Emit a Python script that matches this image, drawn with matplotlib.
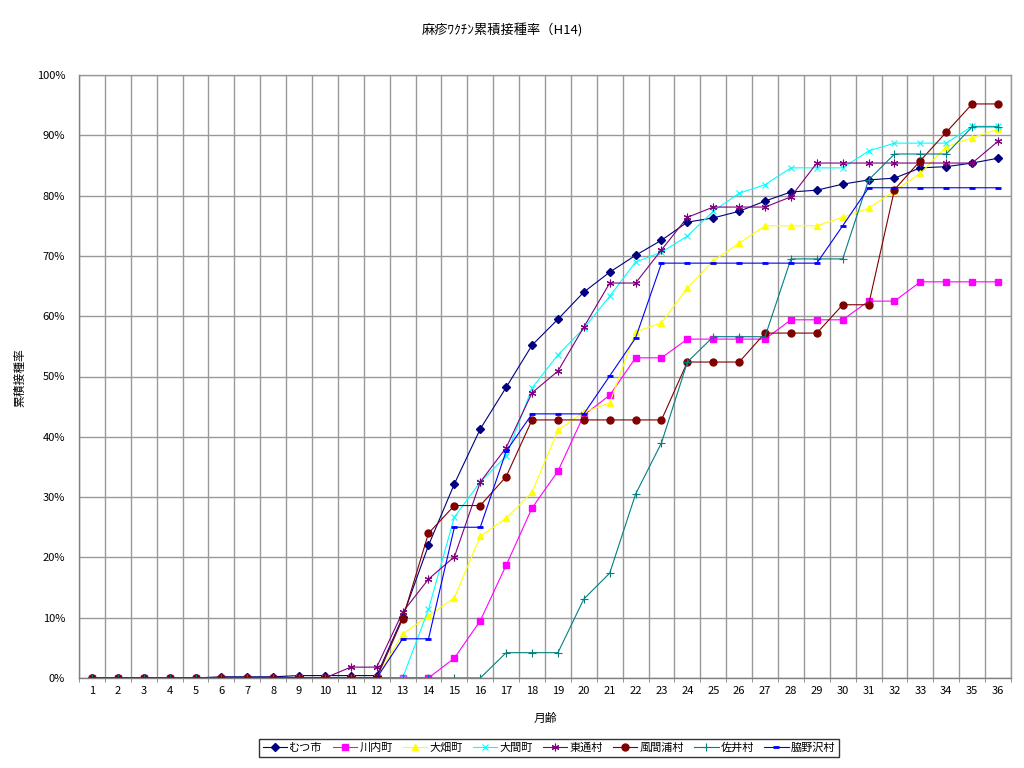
import matplotlib
matplotlib.use("Agg")
import matplotlib.pyplot as plt
from matplotlib.ticker import FixedLocator, PercentFormatter

plt.rcParams['font.family'] = ['Noto Sans CJK JP', 'DejaVu Sans']

months = list(range(1, 37))

mutsu = [0, 0, 0, 0, 0, 0.2, 0.2, 0.2, 0.4, 0.4, 0.4, 0.4,
         10.1, 22.0, 32.2, 41.3, 48.2, 55.2, 59.5, 64.0, 67.3, 70.1, 72.6, 75.6,
         76.3, 77.4, 79.1, 80.6, 80.9, 81.9, 82.6, 82.9, 84.6, 84.8, 85.4, 86.2]
kawauchi = [0, 0, 0, 0, 0, 0, 0, 0, 0, 0, 0, 0,
            0, 0, 3.3, 9.5, 18.7, 28.2, 34.3, 43.6, 46.9, 53.1, 53.1, 56.2,
            56.2, 56.2, 56.2, 59.4, 59.4, 59.4, 62.5, 62.5, 65.7, 65.7, 65.7, 65.7]
ohata = [0, 0, 0, 0, 0, 0, 0, 0, 0, 0, 0, 0,
         7.3, 10.3, 13.3, 23.5, 26.5, 30.8, 41.1, 44.1, 45.6, 57.4, 58.9, 64.7,
         69.2, 72.1, 75.0, 75.0, 75.0, 76.4, 77.9, 80.8, 83.7, 88.1, 89.6, 91.0]
ooma = [0, 0, 0, 0, 0, 0, 0, 0, 0, 0, 0, 0,
        0, 11.4, 26.7, 32.5, 36.8, 48.1, 53.6, 58.0, 63.3, 69.0, 70.6, 73.3,
        77.4, 80.4, 81.8, 84.6, 84.6, 84.6, 87.4, 88.7, 88.7, 88.7, 91.5, 91.5]
higashidori = [0, 0, 0, 0, 0, 0, 0, 0, 0, 0, 1.8, 1.8,
               10.9, 16.4, 20.1, 32.5, 38.2, 47.3, 50.9, 58.2, 65.5, 65.5, 71.0, 76.4,
               78.1, 78.1, 78.1, 79.8, 85.4, 85.4, 85.4, 85.4, 85.4, 85.4, 85.4, 89.0]
kazamaura = [0, 0, 0, 0, 0, 0, 0, 0, 0, 0, 0, 0,
             9.8, 24.0, 28.6, 28.6, 33.4, 42.8, 42.8, 42.8, 42.8, 42.8, 42.8, 52.4,
             52.4, 52.4, 57.2, 57.2, 57.2, 61.9, 61.9, 81.0, 85.8, 90.5, 95.2, 95.2]
sai = [0, 0, 0, 0, 0, 0, 0, 0, 0, 0, 0, 0,
       0, 0, 0, 0, 4.2, 4.2, 4.2, 13.1, 17.4, 30.5, 39.0, 52.4,
       56.6, 56.6, 56.6, 69.5, 69.5, 69.5, 82.6, 86.9, 86.9, 86.9, 91.4, 91.4]
wakinosawa = [0, 0, 0, 0, 0, 0, 0, 0, 0, 0, 0, 0,
              6.5, 6.5, 25.0, 25.0, 37.6, 43.8, 43.8, 43.8, 50.1, 56.4, 68.8, 68.8,
              68.8, 68.8, 68.8, 68.8, 68.8, 75.0, 81.3, 81.3, 81.3, 81.3, 81.3, 81.3]

series_names = ['むつ市', '川内町', '大畑町', '大間町', '東通村', '風間浦村', '佐井村', '脇野沢村']
series_values = [mutsu, kawauchi, ohata, ooma, higashidori, kazamaura, sai, wakinosawa]

title = '麻疹ﾜｸﾁﾝ累積接種率（H14)'
xlabel = '月齢'
ylabel = '累積接種率'

styles = [
    dict(color='#000080', marker='D', markersize=3.8, markerfacecolor='#000080', markeredgecolor='#000080'),
    dict(color='#FF00FF', marker='s', markersize=4.5, markerfacecolor='#FF00FF', markeredgecolor='#FF00FF'),
    dict(color='#FFFF00', marker='^', markersize=5, markerfacecolor='#FFFF00', markeredgecolor='#FFFF00'),
    dict(color='#00FFFF', marker='x', markersize=5, markeredgewidth=0.8),
    dict(color='#800080', marker=(6, 2, 0), markersize=5.5, markeredgewidth=0.8),
    dict(color='#800000', marker='o', markersize=5, markerfacecolor='#800000', markeredgecolor='#800000'),
    dict(color='#008080', marker='+', markersize=6, markeredgewidth=0.8),
    dict(color='#0000FF', marker='_', markersize=4, markeredgewidth=2),
]

fig = plt.figure(figsize=(10.24, 7.68), dpi=100)
ax = fig.add_axes([79 / 1024, 1 - 678 / 768, (1011 - 79) / 1024, (678 - 75) / 768])

lines = []
for name, vals, st in zip(series_names, series_values, styles):
    ln, = ax.plot(months, vals, linewidth=0.8, label=name, **st)
    lines.append(ln)

ax.set_xlim(0.5, 36.5)
ax.set_ylim(0, 100)
ax.set_xticks(months)
ax.set_xticklabels([str(m) for m in months], fontsize=8)
ax.xaxis.set_minor_locator(FixedLocator([m + 0.5 for m in range(0, 37)]))
ax.set_yticks(range(0, 101, 10))
ax.yaxis.set_major_formatter(PercentFormatter(decimals=0))
ax.tick_params(axis='y', labelsize=8, length=0, pad=10)
ax.tick_params(axis='x', which='major', length=0, pad=6)
ax.tick_params(axis='x', which='minor', length=3, color='#808080')
ax.grid(True, which='minor', axis='x', color='#999999', linewidth=1)
ax.grid(True, which='major', axis='y', color='#999999', linewidth=1)
ax.set_axisbelow(True)
for sp in ax.spines.values():
    sp.set_color('#999999')
    sp.set_linewidth(1)
ax.spines['bottom'].set_color('#808080')
ax.spines['left'].set_color('#808080')

fig.text(502 / 1024, 1 - 30 / 768, title, ha='center', va='center', fontsize=9.5)
fig.text(545 / 1024, 1 - 718 / 768, xlabel, ha='center', va='center', fontsize=8.5)
fig.text(20 / 1024, 1 - 378 / 768, ylabel, ha='center', va='center', fontsize=8.5, rotation=90)

leg = fig.legend(handles=lines, labels=series_names, loc='center',
                 bbox_to_anchor=(549 / 1024, 1 - 748 / 768), ncol=8, fontsize=8,
                 frameon=True, fancybox=False, edgecolor='black', handlelength=2.2,
                 handletextpad=0.2, columnspacing=0.9, borderpad=0.3)
leg.get_frame().set_linewidth(1)

fig.savefig('out.png', dpi=100, facecolor='white')
